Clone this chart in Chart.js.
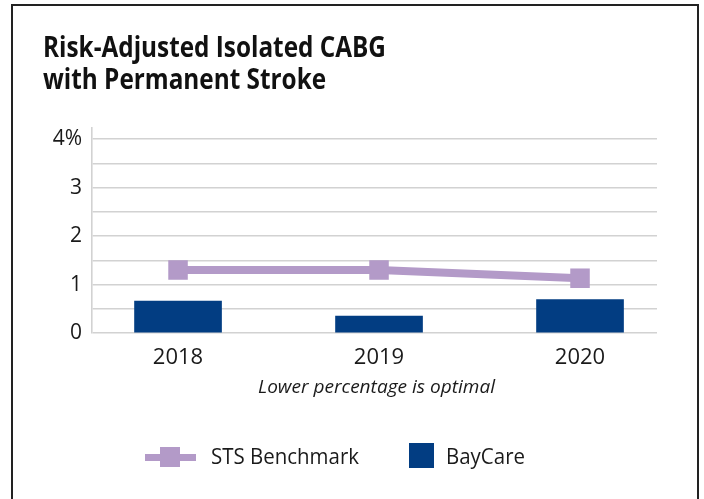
<!DOCTYPE html>
<html>
<head>
<meta charset="utf-8">
<script src="https://cdn.jsdelivr.net/npm/chart.js@4.4.1/dist/chart.umd.min.js"></script>
<style>
  html, body { margin: 0; padding: 0; background: #fff; }
  body { width: 704px; height: 499px; position: relative; overflow: hidden; font-family: "Open Sans", sans-serif; color: #1a1a1a; }
  #frame { position: absolute; left: 11px; top: 4px; width: 684px; height: 600px; border: 2px solid #222; }
  #chartWrap { position: absolute; left: 0; top: 0; width: 704px; height: 499px; }
  .txt { position: absolute; white-space: nowrap; transform-origin: 0 0; }
  #title { left: 43px; top: 30px; font-weight: 700; font-size: 28px; line-height: 32px; color: #111; }
  #sub { left: 258px; top: 377px; font-style: italic; font-size: 18px; line-height: 18px; }
  .leg { top: 446px; font-size: 21px; line-height: 21px; }
  .sw { position: absolute; }
</style>
</head>
<body>
<div id="frame"></div>
<div id="chartWrap"><canvas id="c" width="704" height="499"></canvas></div>
<div id="title" class="txt" data-w="343"><span id="t1"></span><br><span id="t2"></span></div>
<div id="sub" class="txt" data-w="237"></div>
<div class="sw" style="left:145px;top:454px;width:51px;height:7px;background:#B39AC8"></div>
<div class="sw" style="left:160px;top:447px;width:20px;height:20px;background:#B39AC8"></div>
<div id="leg1" class="txt leg" style="left:211px" data-w="148"></div>
<div class="sw" style="left:409px;top:443px;width:25px;height:25px;background:#023D82"></div>
<div id="leg2" class="txt leg" style="left:446px" data-w="79"></div>
<script>
const titleLines = ["Risk-Adjusted Isolated CABG", "with Permanent Stroke"];
const subtitle = "Lower percentage is optimal";
const categories = ["2018", "2019", "2020"];
const stsBenchmark = [1.30, 1.30, 1.13];
const bayCare = [0.66, 0.35, 0.69];
const seriesNames = ["STS Benchmark", "BayCare"];
const yTickValues = [0, 1, 2, 3, 4];
const yTickLabels = ["0", "1", "2", "3", "4%"];
const yGridValues = [0, 0.5, 1, 1.5, 2, 2.5, 3, 3.5, 4];

document.getElementById('t1').textContent = titleLines[0];
document.getElementById('t2').textContent = titleLines[1];
document.getElementById('sub').textContent = subtitle;
document.getElementById('leg1').textContent = seriesNames[0];
document.getElementById('leg2').textContent = seriesNames[1];

function fitWidths() {
  document.querySelectorAll('[data-w]').forEach(el => {
    const target = +el.dataset.w;
    const first = el.querySelector('span') || el;
    const w = first.getBoundingClientRect().width;
    if (w > 0) el.style.transform = 'scaleX(' + (target / w) + ')';
  });
}

const catNums = categories.map(Number);
const LAV = '#B39AC8', NAVY = '#023D82', GRID = '#d2d2d2';

function draw() {
  new Chart(document.getElementById('c'), {
    data: {
      datasets: [
        {
          type: 'line', label: seriesNames[0],
          data: catNums.map((x, i) => ({ x, y: stsBenchmark[i] })),
          borderColor: LAV, backgroundColor: LAV, borderWidth: 8,
          pointStyle: 'rect', pointRadius: 13.8, pointBorderWidth: 0,
          pointBackgroundColor: LAV, order: 0
        },
        {
          type: 'bar', label: seriesNames[1],
          data: catNums.map((x, i) => ({ x, y: bayCare[i] })),
          backgroundColor: NAVY, borderWidth: 0, barThickness: 87, order: 1
        }
      ]
    },
    options: {
      responsive: false, animation: false,
      layout: { padding: { left: 0, right: 47, top: 128, bottom: 126 } },
      plugins: { legend: { display: false }, title: { display: false }, tooltip: { enabled: false } },
      scales: {
        x: {
          type: 'linear', min: 2017.572, max: 2020.383, offset: false,
          grid: { display: false, offset: false }, border: { display: false },
          afterBuildTicks: s => { s.ticks = catNums.map(v => ({ value: v })); },
          afterFit: s => { s.height = 40; },
          ticks: {
            padding: 4, color: '#1a1a1a', autoSkip: false, maxRotation: 0,
            font: { family: 'Open Sans', size: 22 },
            callback: (v) => categories[catNums.indexOf(v)] ?? ''
          }
        },
        y: {
          type: 'linear', min: 0, max: 4.23,
          afterBuildTicks: s => { s.ticks = yGridValues.map(v => ({ value: v })); },
          afterFit: s => { s.width = 92; },
          grid: { color: GRID, lineWidth: 1.6, drawTicks: false },
          border: { display: true, color: GRID, width: 1.6 },
          ticks: {
            padding: 10, color: '#1a1a1a', autoSkip: false,
            font: { family: 'Open Sans', size: 21 },
            callback: (v) => { const i = yTickValues.indexOf(v); return i >= 0 ? yTickLabels[i] : ''; }
          }
        }
      }
    }
  });
}

(document.fonts ? document.fonts.ready : Promise.resolve()).then(() => {
  Promise.all([
    document.fonts.load('21px "Open Sans"'),
    document.fonts.load('bold 28px "Open Sans"'),
    document.fonts.load('italic 18px "Open Sans"')
  ]).catch(() => {}).then(() => { fitWidths(); draw(); });
});
</script>
</body>
</html>
